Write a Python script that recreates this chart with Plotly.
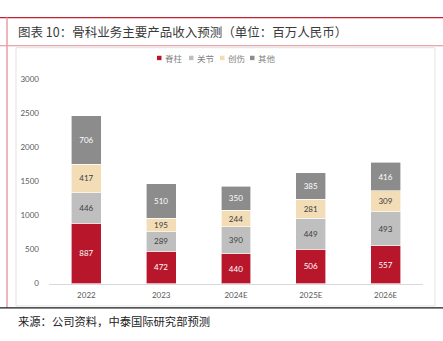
import plotly.graph_objects as go

W, H = 443, 341

categories = ["2022", "2023", "2024E", "2025E", "2026E"]
spine = [887, 472, 440, 506, 557]
joint = [446, 289, 390, 449, 493]
trauma = [417, 195, 244, 281, 309]
others = [706, 510, 350, 385, 416]

series = [
    ("脊柱", spine, "#B8172B", "#FFFFFF"),
    ("关节", joint, "#BFBFBF", "#404040"),
    ("创伤", trauma, "#F2DDB6", "#404040"),
    ("其他", others, "#8C8C8C", "#FFFFFF"),
]

FONT = "Noto Sans CJK SC, Lato, sans-serif"


def py(y):
    return 1 - y / H


def px(x):
    return x / W


fig = go.Figure()
for name, vals, color, tcolor in series:
    fig.add_trace(go.Bar(
        x=categories, y=vals, name=name,
        marker=dict(color=color, line=dict(color="#FFFFFF", width=0.6)),
        text=[str(v) for v in vals], textposition="inside",
        insidetextanchor="middle",
        textfont=dict(size=8, color=tcolor, family="Lato, sans-serif"),
        width=0.4, showlegend=False,
    ))

shapes = [
    # top red rule
    dict(type="line", xref="paper", yref="paper", x0=0, x1=1, y0=py(13), y1=py(13),
         line=dict(color="#C0202E", width=1.2)),
    # rule under the title
    dict(type="line", xref="paper", yref="paper", x0=0, x1=1, y0=py(42), y1=py(42),
         line=dict(color="#E08A8F", width=1.2)),
    # left vertical rule
    dict(type="line", xref="paper", yref="paper", x0=px(7), x1=px(7), y0=py(13), y1=py(312),
         line=dict(color="#EA9DA1", width=1.5)),
    # chart frame
    dict(type="rect", xref="paper", yref="paper", x0=px(16), x1=px(435), y0=py(44), y1=py(310),
         line=dict(color="#E3E3E3", width=1)),
    # bottom black rule
    dict(type="line", xref="paper", yref="paper", x0=0, x1=1, y0=py(312), y1=py(312),
         line=dict(color="#1A1A1A", width=1.2)),
]

annotations = [
    dict(text="图表 10：骨科业务主要产品收入预测（单位：百万人民币）", xref="paper", yref="paper",
         x=px(16), y=py(27), xanchor="left", yanchor="middle", showarrow=False,
         font=dict(size=12.5, color="#3A3A3A", family=FONT)),
    dict(text="来源：公司资料，中泰国际研究部预测", xref="paper", yref="paper",
         x=px(16), y=py(326), xanchor="left", yanchor="middle", showarrow=False,
         font=dict(size=11.3, color="#222222", family=FONT)),
]

# compact legend row: colour square followed by the series name
legend_x = [157, 189, 220, 250]
legend_y = 54.5
for (name, _, color, _), lx in zip(series, legend_x):
    shapes.append(dict(type="rect", xref="paper", yref="paper",
                       x0=px(lx), x1=px(lx + 4.5), y0=py(legend_y + 2.3), y1=py(legend_y - 2.2),
                       fillcolor=color, line=dict(width=0)))
    annotations.append(dict(text=name, xref="paper", yref="paper",
                            x=px(lx + 6), y=py(legend_y), xanchor="left", yanchor="middle",
                            showarrow=False,
                            font=dict(size=8.5, color="#7F7F7F", family=FONT)))

fig.update_layout(
    width=W, height=H,
    margin=dict(l=0, r=0, t=0, b=0),
    paper_bgcolor="#FFFFFF", plot_bgcolor="#FFFFFF",
    barmode="stack", bargap=0.6,
    showlegend=False,
    xaxis=dict(domain=[px(49), px(423)], showline=True, linecolor="#D9D9D9", linewidth=1,
               ticks="", ticklabelstandoff=4,
               tickfont=dict(size=8, color="#595959", family="Lato, sans-serif"),
               showgrid=False),
    yaxis=dict(domain=[py(287), py(76)], range=[0, 3000], dtick=500, showgrid=False,
               zeroline=False, showline=False, ticks="", ticklabelstandoff=9,
               tickfont=dict(size=8, color="#595959", family="Lato, sans-serif")),
    shapes=shapes, annotations=annotations,
    uniformtext=dict(minsize=6, mode="show"),
)

fig.write_html("out.html")
